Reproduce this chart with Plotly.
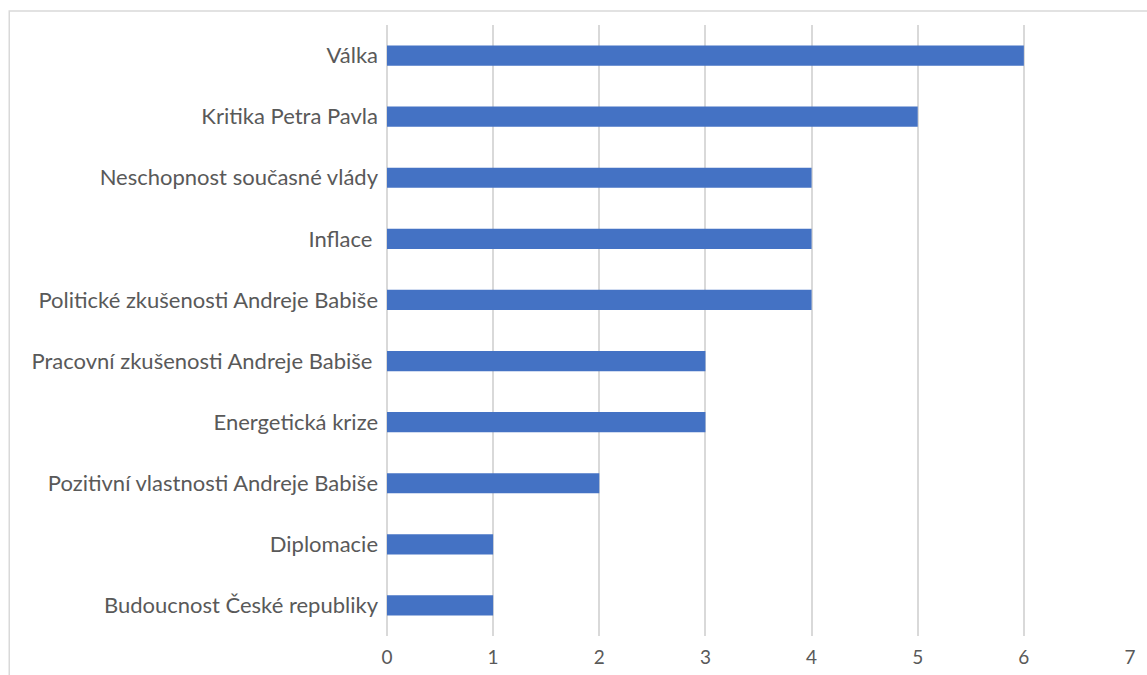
import plotly.graph_objects as go

# Categories listed top to bottom, with counts
categories = [
    "Válka",
    "Kritika Petra Pavla",
    "Neschopnost současné vlády",
    "Inflace\u00a0",
    "Politické zkušenosti Andreje Babiše",
    "Pracovní zkušenosti Andreje Babiše\u00a0",
    "Energetická krize",
    "Pozitivní vlastnosti Andreje Babiše",
    "Diplomacie",
    "Budoucnost České republiky",
]
counts = [6, 5, 4, 4, 4, 3, 3, 2, 1, 1]
x_ticks = [0, 1, 2, 3, 4, 5, 6, 7]

W, H = 1147, 675
ml, mr, mt, mb = 386.5, 17, 25, 39
pw, ph = W - ml - mr, H - mt - mb

fig = go.Figure(
    go.Bar(
        x=counts,
        y=categories,
        orientation="h",
        marker=dict(color="#4472C4", line=dict(width=0)),
        width=0.33,
    )
)

# Light frame around the whole chart area
fig.add_shape(
    type="rect",
    xref="paper", yref="paper",
    x0=(8.5 - ml) / pw, x1=(W + 5 - ml) / pw,
    y0=(H - mb - (H + 5)) / ph, y1=(H - mb - 11) / ph,
    line=dict(color="#D9D9D9", width=1.5),
    fillcolor="rgba(0,0,0,0)",
    layer="below",
)

fig.update_layout(
    width=W,
    height=H,
    margin=dict(l=ml, r=mr, t=mt, b=mb, pad=0, autoexpand=False),
    paper_bgcolor="white",
    plot_bgcolor="white",
    showlegend=False,
    font=dict(family="Lato, Carlito, sans-serif", size=18, color="#595959"),
    xaxis=dict(
        range=[0, 7],
        tickvals=x_ticks,
        ticktext=[str(v) for v in x_ticks],
        showgrid=True,
        gridcolor="#D9D9D9",
        gridwidth=1.5,
        zeroline=True,
        zerolinecolor="#D9D9D9",
        zerolinewidth=1.5,
        showline=False,
        ticks="",
        ticklabelstandoff=8,
        automargin=False,
        tickfont=dict(size=19, color="#595959"),
        fixedrange=True,
    ),
    yaxis=dict(
        categoryorder="array",
        categoryarray=categories[::-1],
        autorange=False,
        range=[-0.5, len(categories) - 0.5],
        showgrid=False,
        zeroline=False,
        showline=False,
        ticks="",
        ticklabelstandoff=8,
        automargin=False,
        tickfont=dict(size=22, color="#595959"),
        fixedrange=True,
    ),
)

fig.write_html("out.html")
